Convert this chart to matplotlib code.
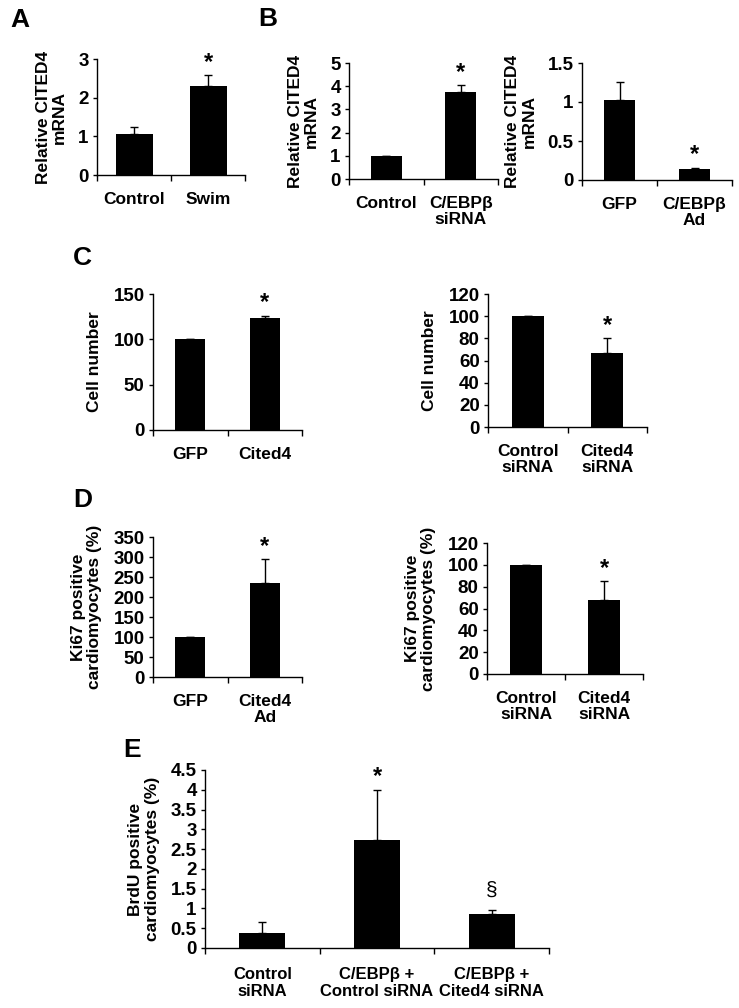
import matplotlib
matplotlib.use("Agg")
import matplotlib.pyplot as plt
import numpy as np
from matplotlib.ticker import FormatStrFormatter

plt.rcParams["font.family"] = ["Liberation Sans", "DejaVu Sans"]
plt.rcParams["font.weight"] = "bold"
plt.rcParams["axes.labelweight"] = "bold"
plt.rcParams["font.size"] = 12.5

# A - swim
a_cats = ["Control", "Swim"]
a_vals = [1.07, 2.30]
a_errs = [0.18, 0.28]
a_marks = ["", "*"]

# B - C/EBPb siRNA / Ad
b1_cats = ["Control", "C/EBPβ\nsiRNA"]
b1_vals = [1.0, 3.77]
b1_errs = [0.0, 0.28]
b1_marks = ["", "*"]

b2_cats = ["GFP", "C/EBPβ\nAd"]
b2_vals = [1.02, 0.135]
b2_errs = [0.24, 0.025]
b2_marks = ["", "*"]

# C - cell number
c1_cats = ["GFP", "Cited4"]
c1_vals = [100, 123]
c1_errs = [0, 3]
c1_marks = ["", "*"]

c2_cats = ["Control\nsiRNA", "Cited4\nsiRNA"]
c2_vals = [100, 67]
c2_errs = [0, 13]
c2_marks = ["", "*"]

# D - Ki67
d1_cats = ["GFP", "Cited4\nAd"]
d1_vals = [100, 234]
d1_errs = [0, 61]
d1_marks = ["", "*"]

d2_cats = ["Control\nsiRNA", "Cited4\nsiRNA"]
d2_vals = [100, 68]
d2_errs = [0, 17]
d2_marks = ["", "*"]

# E - BrdU
e_cats = ["Control\nsiRNA", "C/EBPβ +\nControl siRNA", "C/EBPβ +\nCited4 siRNA"]
e_vals = [0.37, 2.73, 0.85]
e_errs = [0.29, 1.27, 0.10]
e_marks = ["", "*", "§"]

W, H = 739, 1008
fig = plt.figure(figsize=(W / 100, H / 100), dpi=100)


def box(x0, y0, x1, y1):
    return [x0 / W, 1 - y1 / H, (x1 - x0) / W, (y1 - y0) / H]


def panel(rect, cats, vals, errs, marks, yticks, ylabel, width=0.4, pad=12,
          xfs=12.5):
    ax = fig.add_axes(rect)
    x = np.arange(len(cats))
    ax.bar(x, vals, width=width, color="black")
    ax.errorbar(x, vals, yerr=[np.zeros(len(errs)), errs], fmt="none",
                ecolor="black", elinewidth=1.0, capsize=2.7, capthick=1.0)
    for xi, v, e, m in zip(x, vals, errs, marks):
        if m:
            off = 1 if m == "*" else 8
            ax.annotate(m, (xi, v + e), xytext=(0, off), textcoords="offset points",
                        ha="center", va="bottom",
                        fontsize=17 if m == "*" else 15,
                        fontweight="bold" if m == "*" else "normal")
    ax.set_xlim(-0.5, len(cats) - 0.5)
    ax.set_ylim(yticks[0], yticks[-1])
    ax.set_yticks(yticks)
    ax.yaxis.set_major_formatter(FormatStrFormatter("%g"))
    ax.set_xticks(x)
    ax.set_xticklabels(cats, linespacing=1.1, fontweight="bold", fontsize=xfs)
    ax.set_xticks(np.arange(len(cats) + 1) - 0.5, minor=True)
    ax.tick_params(axis="x", which="major", length=0, pad=pad)
    ax.tick_params(axis="x", which="minor", length=4, width=1.0, direction="out")
    ax.tick_params(axis="y", length=3, width=1.0, direction="out", pad=3)
    plt.setp(ax.get_yticklabels(), fontweight="bold", fontsize=13.5)
    for s in ["top", "right"]:
        ax.spines[s].set_visible(False)
    for s in ["left", "bottom"]:
        ax.spines[s].set_linewidth(1.0)
    ax.set_ylabel(ylabel, linespacing=1.1, labelpad=8, fontweight="bold")
    return ax


mrna = "Relative CITED4\nmRNA"
ki67 = "Ki67 positive\ncardiomyocytes (%)"

panel(box(97, 59, 245, 175), a_cats, a_vals, a_errs, a_marks,
      [0, 1, 2, 3], mrna, width=0.5)
panel(box(349, 63, 498, 179), b1_cats, b1_vals, b1_errs, b1_marks,
      [0, 1, 2, 3, 4, 5], mrna, width=0.42)
panel(box(582, 63, 732, 180), b2_cats, b2_vals, b2_errs, b2_marks,
      [0, 0.5, 1, 1.5], mrna, width=0.42)
panel(box(153, 294, 302, 430), c1_cats, c1_vals, c1_errs, c1_marks,
      [0, 50, 100, 150], "Cell number")
panel(box(488, 294, 647, 427), c2_cats, c2_vals, c2_errs, c2_marks,
      [0, 20, 40, 60, 80, 100, 120], "Cell number")
panel(box(153, 537, 302, 677), d1_cats, d1_vals, d1_errs, d1_marks,
      [0, 50, 100, 150, 200, 250, 300, 350], ki67)
panel(box(487, 543, 643, 674), d2_cats, d2_vals, d2_errs, d2_marks,
      [0, 20, 40, 60, 80, 100, 120], ki67)
panel(box(205, 770, 549, 948), e_cats, e_vals, e_errs, e_marks,
      [0, 0.5, 1, 1.5, 2, 2.5, 3, 3.5, 4, 4.5],
      "BrdU positive\ncardiomyocytes (%)", pad=14, xfs=12)

for lab, px, py in [("A", 10, 27), ("B", 258, 26), ("C", 73, 265),
                    ("D", 73, 507), ("E", 123, 757)]:
    fig.text(px / W, 1 - py / H, lab, fontsize=19, fontweight="bold",
             va="baseline", ha="left")

fig.savefig("out.png", dpi=100)
